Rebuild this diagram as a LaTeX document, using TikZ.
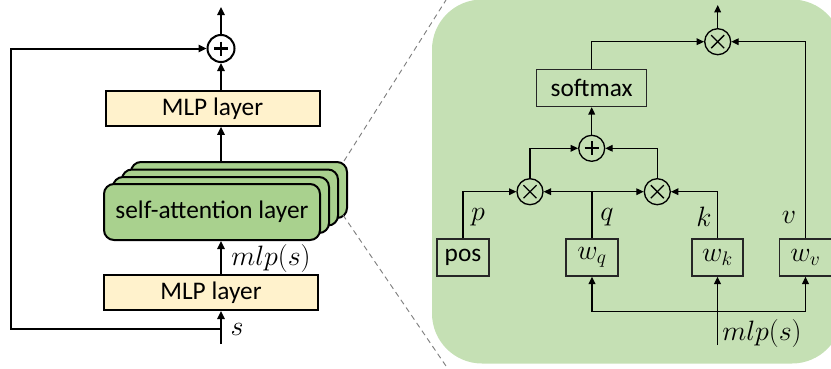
\RequirePackage{fix-cm}
\documentclass[tikz,border=0pt]{standalone}
\usepackage{fontspec}
\setmainfont{Carlito}
\usetikzlibrary{arrows.meta}
\definecolor{mlpyel}{HTML}{FFF2CC}
\definecolor{sagreen}{HTML}{A9D18E}
\definecolor{panelgreen}{HTML}{C5E0B4}
\definecolor{zoomgray}{HTML}{7F7F7F}
\begin{document}
\begin{tikzpicture}[x=0.75pt,y=-0.75pt,font=\fontsize{19}{22}\selectfont,
  thickline/.style={line width=1.5pt},
  thinline/.style={line width=1pt},
  arrL/.style={thickline,-{Triangle[length=6pt,width=5.5pt]}},
  arrR/.style={thinline,-{Triangle[length=5.5pt,width=5pt]}},
  mlpbox/.style={draw,thickline,fill=mlpyel,inner sep=0pt,minimum width=214*0.75pt,minimum height=35*0.75pt},
  sabox/.style={draw,thickline,fill=sagreen,rounded corners=7.5pt,inner sep=0pt,minimum width=216*0.75pt,minimum height=56*0.75pt},
  rbox/.style={draw=black!85,thinline,inner sep=0pt,minimum height=37*0.75pt},
  mathfont/.style={font=\fontsize{21}{24}\selectfont},
  opL/.style={circle,draw,thickline,fill=white,inner sep=0pt,minimum size=27*0.75pt},
  opR/.style={circle,draw,thinline,inner sep=0pt,minimum size=26*0.75pt},
  zoomline/.style={draw=zoomgray,line width=0.7pt,dash pattern=on 4pt off 3pt},
  lbl/.style={inner sep=0pt,mathfont}]
\useasboundingbox (0,0) rectangle (831,368);

% ---------- right panel background ----------
\node[fill=panelgreen,rounded corners=37.5pt,inner sep=0pt,minimum width=410*0.75pt,minimum height=364*0.75pt] (panel) at (637,181.5) {};

% ---------- left: stacked self-attention ----------
\node[sabox] (sa3) at (239,190) {};
\node[sabox] (sa2) at (230,197.5) {};
\node[sabox] (sa1) at (221,205) {};
\node[sabox] (sa) at (212,212) {self-attention layer};

\node[mlpbox] (mlp2) at (212.5,108.3) {MLP layer};
\node[mlpbox] (mlp1) at (211,292.5) {MLP layer};
\node[opL] (plusL) at (221,48.5) {};
\draw[line width=2pt] ([shift={(-7,0)}]plusL.center) -- ([shift={(7,0)}]plusL.center);
\draw[line width=2pt] ([shift={(0,-7)}]plusL.center) -- ([shift={(0,7)}]plusL.center);

\coordinate (outL) at (221,7);
\coordinate (inL) at (221,344);
\coordinate (fbB) at (221,329);
\coordinate (fbBL) at (11,329);
\coordinate (fbTL) at (11,48.5);

\draw[arrL] (plusL.north) -- (outL);
\draw[arrL] (mlp2.north -| plusL.south) -- (plusL.south);
\draw[arrL] (sa3.north -| plusL.south) -- (mlp2.south -| plusL.south);
\draw[arrL] (mlp1.north -| inL) -- (sa.south -| inL);
\draw[arrL] (inL) -- (mlp1.south -| inL);
\draw[arrL] (fbB) -- (fbBL) -- (fbTL) -- (plusL.west);

\node[lbl] (mlpsL) at (271,258) {$mlp(s)$};
\node[lbl] (sL) at (237,329) {$s$};

% ---------- zoom lines ----------
\coordinate (zA) at (344,161);
\coordinate (zB) at (446,0);
\coordinate (zC) at (343,215);
\coordinate (zD) at (446,366);
\draw[zoomline] (zA) -- (zB);
\draw[zoomline] (zC) -- (zD);

% ---------- right panel content ----------
\node[opR] (otT) at (717.7,41.7) {};
\node[rbox,minimum width=110*0.75pt] (softmax) at (591.7,88) {softmax};
\node[opR] (opM) at (591.7,148.3) {};
\node[opR] (otL) at (530,191.7) {};
\node[opR] (otR) at (657.3,191.7) {};
\node[rbox,minimum width=52*0.75pt] (pos) at (463,257.5) {pos};
\node[rbox,mathfont,minimum width=52*0.75pt] (wq) at (592,257.5) {$w_q$};
\node[rbox,mathfont,minimum width=51*0.75pt] (wk) at (717.5,257.5) {$w_k$};
\node[rbox,mathfont,minimum width=52*0.75pt] (wv) at (805.5,257.5) {$w_v$};

% symbols inside the circles
\foreach \c in {otT,otL,otR}{
  \draw[thinline] ([shift={(-6.5,-6.5)}]\c.center) -- ([shift={(6.5,6.5)}]\c.center);
  \draw[thinline] ([shift={(-6.5,6.5)}]\c.center) -- ([shift={(6.5,-6.5)}]\c.center);
}
\draw[line width=1.3pt] ([shift={(-7,0)}]opM.center) -- ([shift={(7,0)}]opM.center);
\draw[line width=1.3pt] ([shift={(0,-7)}]opM.center) -- ([shift={(0,7)}]opM.center);

\coordinate (outR) at (717.7,5);
\coordinate (bus) at (717.5,311.7);
\coordinate (inR) at (717.5,345);

\draw[arrR] (otT.north) -- (outR);
\draw[arrR] (softmax.north) |- (otT.west);
\draw[arrR] (wv.north) |- (otT.east);
\draw[arrR] (opM.north) -- (softmax.south);
\draw[arrR] (otL.north) |- (opM.west);
\draw[arrR] (otR.north) |- (opM.east);
\draw[arrR] (pos.north) |- (otL.west);
\draw[arrR] (wq.north) |- (otL.east);
\draw[arrR] (wq.north |- otL.center) -- (otR.west);
\draw[arrR] (wk.north) |- (otR.east);
\draw[arrR] (inR) -- (wk.south);
\draw[arrR] (bus) -| (wq.south);
\draw[arrR] (bus) -| (wv.south);

\node[lbl] (pL) at (478,217) {$p$};
\node[lbl] (qL) at (607,217) {$q$};
\node[lbl] (kL) at (704,217) {$k$};
\node[lbl] (vL) at (789,217) {$v$};
\node[lbl] (mlpsR) at (762,333) {$mlp(s)$};
\end{tikzpicture}
\end{document}
